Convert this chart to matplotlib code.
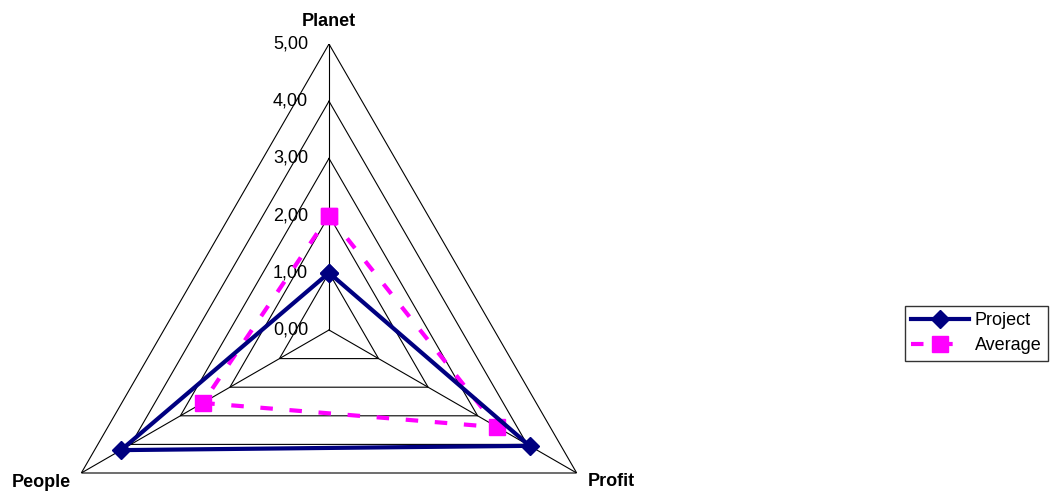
import numpy as np
import matplotlib
matplotlib.use('Agg')
import matplotlib.pyplot as plt

plt.rcParams['font.family'] = ['Liberation Sans', 'DejaVu Sans']

# dados do grafico radar
categorias = ['Planet', 'Profit', 'People']
project = [1.00, 4.05, 4.20]
average = [2.00, 3.40, 2.55]
escala = [0, 1, 2, 3, 4, 5]
rotulos_escala = ['0,00', '1,00', '2,00', '3,00', '4,00', '5,00']

angulos = np.linspace(0, 2 * np.pi, len(categorias), endpoint=False)
ang_fechado = np.append(angulos, angulos[0])

fig = plt.figure(figsize=(10.58, 4.93), dpi=100)
# centro em (329, 330) px, raio 286 px
cx, cy, r = 329 / 1058, 1 - 330 / 493, 286
w, h = 2 * r / 1058, 2 * r / 493
ax = fig.add_axes([cx - w / 2, cy - h / 2, w, h], projection='polar')
ax.set_theta_offset(np.pi / 2)
ax.set_theta_direction(-1)
ax.set_ylim(0, 5)
ax.grid(False)
ax.spines['polar'].set_visible(False)
ax.set_xticks([])
ax.set_yticks([])
ax.patch.set_alpha(0)

# grade triangular
for v in escala[1:]:
    ax.plot(ang_fechado, [v] * len(ang_fechado), color='black', lw=0.8, zorder=1)
for a in angulos:
    ax.plot([a, a], [0, 5], color='black', lw=0.8, zorder=1)

# rotulos da escala
for v, txt in zip(escala, rotulos_escala):
    ax.annotate(txt, xy=(0, v), xytext=(-21, 0), textcoords='offset pixels',
                ha='right', va='center', fontsize=13)

# rotulos das categorias
offsets = [(0, 23, 'center'), (11, -9, 'left'), (-10, -9, 'right')]
for a, nome, (ox, oy, ha) in zip(angulos, categorias, offsets):
    ax.annotate(nome, xy=(a, 5), xytext=(ox, oy), textcoords='offset pixels',
                ha=ha, va='center', fontsize=13, fontweight='bold',
                annotation_clip=False)

l1, = ax.plot(ang_fechado, project + project[:1], color='#000080', lw=3,
              marker='D', markersize=9, label='Project', zorder=4, clip_on=False)
l2, = ax.plot(ang_fechado, average + average[:1], color='#FF00FF', lw=3,
              ls=(0, (3, 4)), marker='s', markersize=11, label='Average', zorder=3,
              clip_on=False)

fig.legend(handles=[l1, l2], loc='upper left', bbox_to_anchor=(905 / 1058, 1 - 306 / 493),
           fontsize=13, frameon=True, fancybox=False, edgecolor='black',
           handlelength=3.2, handletextpad=0.3, borderpad=0.35, labelspacing=0.45,
           borderaxespad=0)

fig.savefig('out.png', dpi=100)
